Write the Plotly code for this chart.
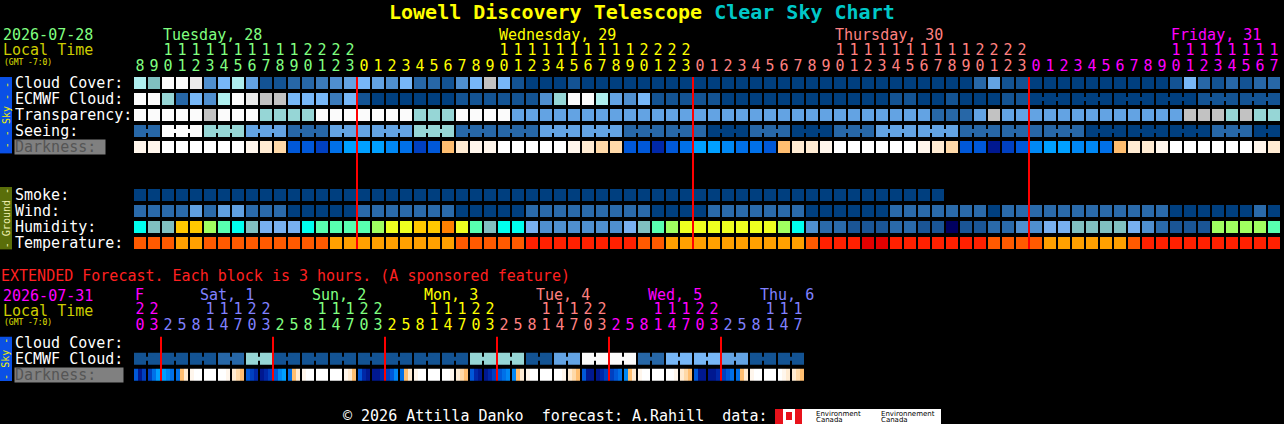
import plotly.graph_objects as go

W, H = 1284, 424
FUENTE = "DejaVu Sans Mono"

# ===== Datos =====

# Pronóstico principal: un bloque por hora (martes 8h -> viernes 17h)
horas = list(range(8, 24)) + list(range(0, 24)) + list(range(0, 24)) + list(range(0, 18))
dias = ["Tuesday, 28", "Wednesday, 29", "Thursday, 30", "Friday, 31"]
colores_dia = ["#80ff80", "#ffff00", "#ff8080", "#ff00ff"]

# Paletas (el valor de cada bloque es el índice del nivel)
pal_cielo = ["#003F7F", "#135393", "#2767A7", "#3B7BBB", "#4F8FCF", "#63A3E3", "#77B7F7",
             "#80C0C0", "#96D6D6", "#AEEEEE", "#C2C2C2", "#EAEAEA", "#FBFBFB"]
pal_oscuridad = ["#FFFFFF", "#FFF6EC", "#FFEBD2", "#FFD9A8", "#FFBE70", "#00C8FF", "#00A0FF",
                 "#0088F4", "#0070E8", "#0058D8", "#0040C0", "#0028A8", "#001890"]
pal_humo = ["#003F7F"]
pal_viento = ["#003F7F", "#2A6AAA", "#60A0E0"]
pal_humedad = ["#000060", "#1A5595", "#2A6AAA", "#4F8FCF", "#78B0F0", "#80C0C0", "#00FFEE",
               "#58FFB0", "#A0FF60", "#EEFF20", "#FFC800", "#FF8000"]
pal_temp = ["#FFA000", "#FF5A00", "#FF2000", "#E00000"]

nubes = [9, 7, 12, 12, 11, 4, 6, 9, 5, 1, 1, 2, 2, 3, 4, 5, 6, 5, 4, 6, 2, 2, 1, 4, 6, 10, 6, 1,
         0, 0, 0, 1, 0, 0, 0, 0, 0, 0, 0, 0, 0, 0, 0, 0, 0, 0, 0, 0, 0, 0, 0, 0, 0, 0, 0, 0,
         0, 0, 0, 0, 2, 5, 1, 1, 0, 0, 0, 0, 0, 0, 0, 0, 0, 0, 1, 6, 2, 1, 2, 1, 2, 2]
ecmwf = [12, 12, 8, 2, 6, 4, 9, 12, 11, 10, 10, 6, 6, 6, 3, 6, 1, 0, 0, 0, 0, 0, 0, 1, 1, 1, 1, 1,
         1, 4, 8, 12, 12, 9, 5, 4, 6, 1, 1, 1, 1, 1, 0, 0, 0, 0, 0, 0, 0, 0, 0, 0, 0, 0, 1, 1,
         0, 0, 1, 0, 0, 0, 1, 1, 0, 0, 0, 0, 0, 0, 0, 0, 0, 0, 0, 0, 1, 1, 1, 1, 1, 1]
ecmwf_3h_desde = 64  # desde aquí ECMWF viene en bloques de 3 horas
transparencia = [12, 12, 12, 12, 12, 10, 12, 12, 12, 8, 8, 8, 8, 12, 12, 12, 12, 12, 12, 12, 8, 8, 8, 12, 12, 12, 12, 5,
                 5, 5, 5, 5, 5, 5, 5, 5, 5, 5, 5, 5, 5, 5, 5, 5, 5, 5, 5, 5, 5, 5, 5, 5, 5, 5, 5, 5,
                 5, 2, 2, 2, 5, 10, 5, 5, 5, 5, 5, 5, 5, 5, 5, 5, 5, 5, 5, 10, 10, 10, 8, 10, 8, 8]
seeing = [2, 2, 12, 12, 12, 8, 8, 8, 5, 5, 5, 2, 2, 2, 5, 5, 5, 5, 5, 5, 8, 8, 8, 2, 2, 2, 2, 2,
          2, 5, 5, 5, 5, 5, 5, 2, 2, 2, 2, 2, 2, 0, 0, 0, 2, 2, 2, 0, 0, 0, 2, 2, 2, 5, 5, 5,
          5, 5, 5, 2, 2, 2, 2, 2, 2, 2, 2, 2, 0, 0, 0, 0, 0, 0, 0, 0, 0, 2, 2, 2, 0, 0]
oscuridad = [1, 1, 0, 0, 0, 0, 0, 0, 1, 2, 3, 9, 9, 10, 8, 6, 6, 6, 7, 8, 10, 9, 4, 2, 1, 1, 0, 0,
             0, 0, 0, 1, 2, 3, 3, 9, 9, 11, 9, 8, 6, 6, 7, 8, 8, 9, 4, 2, 2, 1, 0, 0, 0, 0, 0, 0,
             1, 2, 3, 9, 9, 12, 10, 9, 7, 6, 6, 7, 7, 8, 4, 2, 2, 1, 0, 0, 0, 0, 0, 0, 1, 2]
humo = [0, 0, 0, 0, 0, 0, 0, 0, 0, 0, 0, 0, 0, 0, 0, 0, 0, 0, 0, 0, 0, 0, 0, 0, 0, 0, 0, 0,
        0, 0, 0, 0, 0, 0, 0, 0, 0, 0, 0, 0, 0, 0, 0, 0, 0, 0, 0, 0, 0, 0, 0, 0, 0, 0, 0, 0,
        0, 0, None, None, None, None, None, None, None, None, None, None, None, None,
        None, None, None, None, None, None, None, None, None, None, None, None]
viento = [1, 1, 1, 1, 2, 1, 2, 2, 1, 1, 1, 0, 0, 0, 0, 0, 1, 1, 1, 1, 1, 1, 1, 0, 0, 0, 0, 0,
          1, 1, 1, 1, 1, 1, 1, 1, 1, 0, 0, 0, 0, 1, 1, 1, 1, 1, 1, 1, 0, 0, 0, 0, 0, 0, 1, 1,
          1, 1, 1, 1, 1, 0, 1, 1, 1, 1, 1, 1, 1, 1, 1, 1, 1, 1, 0, 0, 0, 0, 0, 0, 1, 0]
humedad = [6, 5, 5, 10, 10, 8, 7, 6, 5, 4, 4, 4, 6, 7, 7, 7, 7, 8, 9, 9, 10, 10, 11, 9, 7, 5, 6, 6,
           4, 3, 3, 3, 3, 3, 3, 4, 5, 7, 8, 9, 9, 9, 9, 9, 9, 9, 8, 6, 3, 2, 2, 1, 1, 1, 2, 2,
           1, 1, 0, 1, 1, 2, 2, 3, 3, 4, 4, 5, 5, 5, 5, 4, 3, 2, 1, 1, 1, 8, 8, 8, 8, 7]
temperatura = [1, 1, 1, 0, 0, 1, 1, 1, 1, 1, 1, 1, 1, 1, 0, 0, 0, 0, 0, 0, 0, 0, 0, 1, 1, 1, 1, 1,
               2, 2, 2, 2, 2, 2, 2, 2, 1, 1, 0, 0, 0, 0, 0, 0, 0, 0, 0, 0, 1, 2, 2, 2, 3, 3, 2, 2,
               2, 2, 2, 2, 2, 1, 1, 1, 1, 0, 0, 0, 0, 0, 0, 1, 2, 2, 2, 2, 2, 2, 2, 2, 2, 2]

# Pronóstico extendido: un bloque cada 3 horas (viernes 20h -> jueves 17h)
horas_ext = [20, 23,
             2, 5, 8, 11, 14, 17, 20, 23,
             2, 5, 8, 11, 14, 17, 20, 23,
             2, 5, 8, 11, 14, 17, 20, 23,
             2, 5, 8, 11, 14, 17, 20, 23,
             2, 5, 8, 11, 14, 17, 20, 23,
             2, 5, 8, 11, 14, 17]
dias_ext = ["F", "Sat, 1", "Sun, 2", "Mon, 3", "Tue, 4", "Wed, 5", "Thu, 6"]
colores_ext = ["#ff00ff", "#8080ff", "#80ff80", "#ffff00", "#ff8080", "#ff00ff", "#8080ff"]
ecmwf_ext = [1, 1, 1, 1, 1, 1, 2, 2, 8, 8, 1, 1, 1, 1, 1, 1, 1, 1, 1, 1, 1, 1, 1, 1,
             8, 8, 8, 8, 1, 1, 5, 5, 12, 12, 12, 12, 2, 2, 6, 6, 6, 6, 5, 5, 1, 1, 1, 1]
# oscuridad extendida: tres franjas (una por hora) en cada bloque
oscuridad_ext = [[9, 12, 10], [10, 8, 6], [6, 7, 8], [8, 4, 2], [1, 0, 0], [0, 0, 0], [0, 0, 1], [2, 3, 4],
                 [9, 10, 11], [12, 11, 10], [9, 7, 6], [8, 4, 2], [1, 0, 0], [0, 0, 0], [0, 0, 0], [1, 2, 4],
                 [9, 11, 12], [12, 12, 11], [10, 9, 7], [8, 4, 2], [1, 0, 0], [0, 0, 0], [0, 0, 1], [2, 3, 4],
                 [9, 11, 12], [12, 11, 10], [9, 8, 7], [7, 4, 2], [1, 0, 0], [0, 0, 0], [0, 0, 1], [2, 3, 4],
                 [9, 12, 12], [12, 11, 10], [10, 9, 8], [7, 4, 2], [1, 0, 0], [0, 0, 0], [0, 0, 1], [2, 3, 4],
                 [9, 12, 12], [12, 12, 11], [10, 9, 8], [8, 4, 2], [1, 0, 0], [0, 0, 0], [0, 1, 2], [2, 3, 4]]


def px(p):
    return p / W


def py(p):
    return 1 - p / H


fig = go.Figure()


def escala(pal):
    if len(pal) == 1:
        return [[0, pal[0]], [1, pal[0]]]
    return [[k / (len(pal) - 1), c] for k, c in enumerate(pal)]


def celdas(x, z, pal, r, yaxis="y", xgap=2, ygap=4):
    fig.add_trace(go.Heatmap(
        x=x, y=[r - 0.5, r + 0.5], z=[z],
        colorscale=escala(pal), zmin=0, zmax=max(len(pal) - 1, 1),
        xgap=xgap, ygap=ygap, showscale=False, hoverinfo="skip",
        xaxis="x", yaxis=yaxis))


def puentes(vals, pal, r, une, yaxis="y"):
    # pequeñas uniones entre bloques del mismo grupo de 3 h
    xs = [k + 0.5 for k in range(len(vals) - 1)]
    zs = [vals[k] if une(k) and vals[k] == vals[k + 1] else None for k in range(len(vals) - 1)]
    celdas(xs, zs, pal, r, yaxis, xgap=0, ygap=12)


def texto(x, y, s, color, size=15, xref="paper", yref="paper", **kw):
    fig.add_annotation(x=x, y=y, xref=xref, yref=yref, text=s, showarrow=False,
                       xanchor=kw.pop("xanchor", "left"), yanchor="middle",
                       font=dict(family=kw.pop("family", FUENTE), size=size, color=color), **kw)


def indice_dia(hrs):
    d, out = 0, []
    for k, h in enumerate(hrs):
        if k > 0 and h < hrs[k - 1]:
            d += 1
        out.append(d)
    return out


def escala_horas(hrs, nombres, colores, yaxis, paso):
    dia = indice_dia(hrs)
    col = [colores[d] for d in dia]
    xs = list(range(len(hrs)))
    fig.add_trace(go.Scatter(x=xs, y=[-2] * len(hrs), mode="text",
                             text=[str(h // 10) if h >= 10 else "" for h in hrs],
                             textfont=dict(family=FUENTE, size=15, color=col),
                             hoverinfo="skip", xaxis="x", yaxis=yaxis))
    fig.add_trace(go.Scatter(x=xs, y=[-1.0] * len(hrs), mode="text",
                             text=[str(h % 10) for h in hrs],
                             textfont=dict(family=FUENTE, size=15, color=col),
                             hoverinfo="skip", xaxis="x", yaxis=yaxis))
    # nombre del día sobre las 10h (o al inicio si el día empieza después)
    for d, nombre in enumerate(nombres):
        ks = [k for k in xs if dia[k] == d]
        pos = ks[0] - 0.5
        for k in ks:
            if hrs[k] <= 10 < hrs[k] + paso:
                pos = k - 0.5 + (10 - hrs[k]) / paso
        texto(pos, -3, nombre, colores[d], xref="x", yref=yaxis)
    # líneas rojas de medianoche
    return [k - 0.5 for k in xs if k > 0 and dia[k] != dia[k - 1]]


# ===== Bloque principal =====
filas = [
    ("Cloud Cover:", nubes, pal_cielo, 0),
    ("ECMWF Cloud:", ecmwf, pal_cielo, 1),
    ("Transparency:", transparencia, pal_cielo, 2),
    ("Seeing:", seeing, pal_cielo, 3),
    ("Darkness:", oscuridad, pal_oscuridad, 4),
    ("Smoke:", humo, pal_humo, 7),
    ("Wind:", viento, pal_viento, 8),
    ("Humidity:", humedad, pal_humedad, 9),
    ("Temperature:", temperatura, pal_temp, 10),
]
puentes(seeing, pal_cielo, 3, lambda k: k % 3 != 1)
puentes(ecmwf, pal_cielo, 1, lambda k: k >= ecmwf_3h_desde and k % 3 != 0)
for nombre, vals, pal, r in filas:
    celdas(list(range(len(vals))), vals, pal, r)
    if nombre == "Darkness:":
        texto(px(14), r, nombre, "#555555", yref="y", bgcolor="#808080",
              width=90, height=14, align="left", borderpad=0)
    else:
        texto(px(13), r, nombre, "#ffffff", yref="y")

medianoches = escala_horas(horas, dias, colores_dia, "y", 1)
for xm in medianoches:
    fig.add_shape(type="line", xref="x", yref="y", x0=xm, x1=xm, y0=-0.375, y1=10.375,
                  line=dict(color="#ff0000", width=2))

# ===== Bloque extendido =====
celdas(list(range(len(ecmwf_ext))), ecmwf_ext, pal_cielo, 1, "y2")
puentes(ecmwf_ext, pal_cielo, 1, lambda k: k % 2 == 0, "y2")

ancho = (12 / 14) / 3
bordes, zfila = [], []
for j, trio in enumerate(oscuridad_ext):
    izq = j - 6 / 14
    if j > 0:
        zfila.append(None)
    for s, v in enumerate(trio):
        bordes.append(izq + s * ancho)
        zfila.append(v)
    bordes.append(izq + 3 * ancho)
celdas(bordes, zfila, pal_oscuridad, 2, "y2", xgap=0)

for nombre, r in [("Cloud Cover:", 0), ("ECMWF Cloud:", 1)]:
    texto(px(13), r, nombre, "#ffffff", yref="y2")
texto(px(14), 2, "Darkness:", "#555555", yref="y2", bgcolor="#808080",
      width=108, height=14, align="left", borderpad=0)

medianoches_ext = escala_horas(horas_ext, dias_ext, colores_ext, "y2", 3)
for xm in medianoches_ext:
    fig.add_shape(type="line", xref="x", yref="y2", x0=xm, x1=xm, y0=-0.375, y1=2.375,
                  line=dict(color="#ff0000", width=2))

# ===== Textos =====
texto(px(641.5), py(12),
      "<b><span style='color:#ffff00'>Lowell Discovery Telescope</span> "
      "<span style='color:#00c8c8'>Clear Sky Chart</span></b>",
      "#ffff00", size=20, xanchor="center")
texto(px(1), py(35), "2026-07-28", "#80ff80")
texto(px(1), py(50.5), "Local Time", "#cccc00")
texto(px(2), py(62), "(GMT -7:0)", "#e0e000", size=8)

texto(px(-1), py(276), "EXTENDED Forecast. Each block is 3 hours. (A sponsored feature)", "#ff2020")
texto(px(1), py(295.5), "2026-07-31", "#ff00ff")
texto(px(1), py(310.5), "Local Time", "#cccc00")
texto(px(2), py(322), "(GMT -7:0)", "#e0e000", size=8)

# barras laterales Sky / Ground
for yref, y0, y1, color, etiqueta, tcolor in [
        ("y", -0.375, 4.4, "#0a50e6", "- - Sky - -", "#f0f000"),
        ("y", 6.5, 10.4, "#5a6e0a", "- Ground -", "#f0f0b0"),
        ("y2", -0.375, 2.4, "#0a50e6", "- Sky -", "#f0f000")]:
    fig.add_shape(type="rect", xref="paper", yref=yref, x0=0, x1=px(12), y0=y0, y1=y1,
                  fillcolor=color, line=dict(width=0))
    texto(px(6), (y0 + y1) / 2, etiqueta, tcolor, size=10, yref=yref,
          xanchor="center", textangle=-90)

# pie de página
texto(px(341), py(416), "© 2026 Attilla Danko\u00a0\u00a0forecast: A.Rahill\u00a0\u00a0data:", "#ffffff")
fig.add_shape(type="rect", xref="paper", yref="paper", x0=px(775), x1=px(941), y0=py(424), y1=py(409),
              fillcolor="#ffffff", line=dict(width=0))
for a, b, t, u in [(775, 783, 409, 424), (795, 802, 409, 424), (786, 792, 412, 420)]:
    fig.add_shape(type="rect", xref="paper", yref="paper", x0=px(a), x1=px(b), y0=py(u), y1=py(t),
                  fillcolor="#e8121b", line=dict(width=0))
for xl, linea1 in [(815, "Environment"), (880, "Environnement")]:
    texto(px(xl), py(413.5), linea1, "#000000", size=7, family="DejaVu Sans", borderpad=0)
    texto(px(xl), py(420), "Canada", "#000000", size=7, family="DejaVu Sans", borderpad=0)

fig.update_layout(
    width=W, height=H,
    margin=dict(l=0, r=0, t=0, b=0),
    paper_bgcolor="black",
    plot_bgcolor="black",
    showlegend=False,
    xaxis=dict(range=[-10, (W - 140) / 14], domain=[0, 1], visible=False, fixedrange=True),
    yaxis=dict(range=[10.625, -3.6875], domain=[1 - 253 / H, 1 - 24 / H], visible=False, fixedrange=True),
    yaxis2=dict(range=[2.625, -3.6875], domain=[1 - 384.7 / H, 1 - 283.7 / H], visible=False,
                anchor="x", fixedrange=True),
)

# quitar el margen por defecto de la página para que el gráfico quede en (0, 0)
fig.write_html("out.html", config={"displayModeBar": False},
               post_script="document.body.style.margin='0';document.body.style.overflow='hidden';"
                           "document.body.style.background='black';")
